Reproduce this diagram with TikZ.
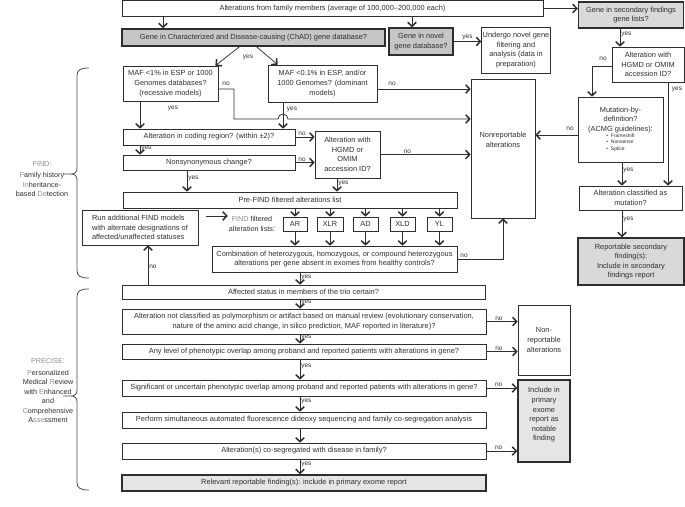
\documentclass[tikz,border=0pt]{standalone}
\usepackage{fontspec}
\setmainfont{Liberation Sans}
\usetikzlibrary{arrows.meta}
\definecolor{ink}{HTML}{2E2E2E}
\definecolor{lite}{HTML}{8C8C8C}
\begin{document}
\begin{tikzpicture}[x=1pt,y=-1pt,
  font=\fontsize{7.4}{9.6}\selectfont, text=ink,
  box/.style={draw=ink, line width=0.65pt, inner sep=1pt, align=center, text=ink},
  gbox/.style={box, line width=1.4pt, fill=gray!45},
  arr/.style={draw=ink, line width=0.75pt, -{Straight Barb[length=4pt,width=8.5pt,line width=1.5pt]}},
  lbl/.style={font=\fontsize{6.5}{7}\selectfont, inner sep=1pt, text=ink},
  brc/.style={draw=ink!85, line width=0.8pt},
  side/.style={align=center, font=\fontsize{7.2}{9.5}\selectfont, text=ink}]
\useasboundingbox (0,0) rectangle (685,506);

% ---- column / row helpers
\coordinate (v1) at (163,0);
\coordinate (v2) at (412,0);
\coordinate (v3) at (140,0);
\coordinate (v4) at (283,0);
\coordinate (v6) at (187,0);
\coordinate (v7) at (337,0);
\coordinate (v8) at (300,0);
\coordinate (v9) at (148,0);
\coordinate (v10) at (234,0);
\coordinate (v11) at (503,0);
\coordinate (v12) at (620,0);
\coordinate (v13) at (592,0);
\coordinate (v14) at (668,0);
\coordinate (v15) at (622,0);
\coordinate (h1) at (0,89);
\coordinate (h2) at (0,119);
\coordinate (h3) at (0,135);
\coordinate (h4) at (0,216);
\coordinate (h5) at (0,66);

% ---- nodes
\node[box, minimum width=421pt, minimum height=16pt] (top) at (332.5,8.5) {Alterations from family members (average of 100,000–200,000 each)};
\node[gbox, minimum width=263pt, minimum height=17pt] (chad) at (253.5,37.5) {Gene in Characterized and Disease-causing (ChAD) gene database?};
\node[gbox, minimum width=64pt, minimum height=27pt] (novel) at (421,41.5) {Gene in novel\\gene database?};
\node[box, minimum width=64pt, minimum height=46pt] (undergo) at (516,50) {Undergo novel gene\\filtering and\\analysis (data in\\preparation)};
\node[gbox, fill=gray!30, minimum width=105pt, minimum height=26pt] (sec) at (631,15) {Gene in secondary findings\\gene lists?};

\node[box, minimum width=95pt, minimum height=35pt] (maf1) at (170.5,83.5) {MAF <1\% in ESP or 1000\\Genomes databases?\\(recessive models)};
\node[box, minimum width=109pt, minimum height=37pt] (maf01) at (322.5,83.5) {MAF <0.1\% in ESP, and/or\\1000 Genomes? (dominant\\models)};
\node[box, minimum width=172pt, minimum height=16pt] (coding) at (209,137) {Alteration in coding region? (within ±2)?};
\node[box, minimum width=172pt, minimum height=15pt] (nonsyn) at (209,162.5) {Nonsynonymous change?};
\node[box, minimum width=65pt, minimum height=47pt] (hgmd) at (347.5,154.5) {Alteration with\\HGMD or\\OMIM\\accession ID?};
\node[box, minimum width=64pt, minimum height=139pt] (nonrep) at (503,148.5) {Nonreportable\\alterations\\[8pt]};
\node[box, minimum width=334pt, minimum height=16pt] (prefind) at (290,200) {Pre-FIND filtered alterations list};
\node[box, minimum width=24pt, minimum height=14pt] (ar) at (295,224) {AR};
\node[box, minimum width=26pt, minimum height=14pt] (xlr) at (330,224) {XLR};
\node[box, minimum width=25pt, minimum height=14pt] (ad) at (365.5,224) {AD};
\node[box, minimum width=25pt, minimum height=14pt] (xld) at (402.5,224) {XLD};
\node[box, minimum width=25pt, minimum height=14pt] (yl) at (439.5,224) {YL};
\node[side, inner sep=1pt] (findlbl) at (252,224) {\textcolor{lite}{FIND} filtered\\alteration lists:};
\node[box, align=left, minimum width=116pt, minimum height=35pt] (run) at (140,227.5) {Run additional FIND models\\with alternate designations of\\affected/unaffected statuses};
\node[box, minimum width=245pt, minimum height=26pt] (combo) at (334.5,259) {Combination of heterozygous, homozygous, or compound heterozygous\\alterations per gene absent in exomes from healthy controls?};

\node[box, minimum width=363pt, minimum height=14pt] (affected) at (303.5,292) {Affected status in members of the trio certain?};
\node[box, minimum width=364pt, minimum height=25pt] (poly) at (304,321.5) {Alteration not classified as polymorphism or artifact based on manual review (evolutionary conservation,\\nature of the amino acid change, in silico prediction, MAF reported in literature)?};
\node[box, minimum width=364pt, minimum height=15pt] (anylevel) at (304,351.5) {Any level of phenotypic overlap among proband and reported patients with alterations in gene?};
\node[box, minimum width=364pt, minimum height=16pt] (signif) at (304,388) {Significant or uncertain phenotypic overlap among proband and reported patients with alterations in gene?};
\node[box, minimum width=364pt, minimum height=16pt] (perform) at (304,420) {Perform simultaneous automated fluorescence dideoxy sequencing and family co-segregation analysis};
\node[box, minimum width=364pt, minimum height=16pt] (coseg) at (304,451) {Alteration(s) co-segregated with disease in family?};
\node[gbox, fill=gray!20, minimum width=364pt, minimum height=16pt] (relevant) at (304,483) {Relevant reportable finding(s): include in primary exome report};
\node[box, minimum width=52pt, minimum height=70pt] (nonrep2) at (544,340) {Non-\\reportable\\alterations};
\node[gbox, fill=gray!20, minimum width=52pt, minimum height=82pt] (include) at (544,421) {Include in\\primary\\exome\\report as\\notable\\finding\\[4pt]};

\node[box, minimum width=72pt, minimum height=35pt] (hgmd2) at (648,64.5) {Alteration with\\HGMD or OMIM\\accession ID?};
\node[box, minimum width=85pt, minimum height=65pt] (mutation) at (620.5,129.5) {Mutation-by-\\definition?\\(ACMG guidelines):\\[-1pt]{\fontsize{5}{6.5}\selectfont\begin{tabular}{@{}l@{}}•\ \ Frameshift\\ •\ \ Nonsense\\ •\ \ Splice\end{tabular}}};
\node[box, minimum width=103pt, minimum height=24pt] (classified) at (630.5,198) {Alteration classified as\\mutation?};
\node[gbox, fill=gray!30, minimum width=106pt, minimum height=47pt] (repsec) at (631,261.5) {Reportable secondary\\finding(s):\\Include in secondary\\findings report};

% ---- side labels
\node[side] (findtxt) at (42,179) {\textcolor{lite}{FIND:}\\[2pt]\textcolor{lite}{F}amily history\\\textcolor{lite}{In}heritance-\\based \textcolor{lite}{De}tection};
\node[side] (pretxt) at (48,391) {\textcolor{lite}{PRECISE:}\\[2pt]\textcolor{lite}{P}ersonalized\\Medical \textcolor{lite}{R}eview\\with \textcolor{lite}{E}nhanced\\and\\\textcolor{lite}{C}omprehensive\\A\textcolor{lite}{sse}ssment};

% braces
\draw[brc] (89,68) .. controls (80,68) and (77,70) .. (77,76) -- (77,168)
  .. controls (77,172) and (75,174) .. (71,174) -- (63,174)
  (71,174) .. controls (75,174) and (77,176) .. (77,180) -- (77,270)
  .. controls (77,276) and (80,278) .. (89,278);
\draw[brc] (89,289) .. controls (80,289) and (77,291) .. (77,297) -- (77,390)
  .. controls (77,394) and (75,396) .. (71,396) -- (63,396)
  (71,396) .. controls (75,396) and (77,398) .. (77,402) -- (77,482)
  .. controls (77,488) and (80,490) .. (89,490);

% ---- connectors
\draw[arr] (top.south -| v1) -- (chad.north -| v1);
\draw[arr] (top.south -| v2) -- (novel.north -| v2);
\draw[arr] (top.east) -- (top.east -| sec.west);
\draw[arr] (novel.east) -- node[lbl, above] (y0) {yes} (novel.east -| undergo.west);
\draw[arr] ([xshift=-14pt]chad.south) -- ([xshift=-3pt]maf1.north east);
\draw[arr] ([xshift=3pt]chad.south) -- ([xshift=10pt]maf01.north west);
\node[lbl] (y1) at (248,57) {yes};

\draw[arr] (maf1.south -| v3) -- (coding.north -| v3);
\node[lbl] (y2) at (173,108) {yes};
\draw[arr] (maf1.east |- h1) -- (v10 |- h1) -- (v10 |- h2) -- ([xshift=-5pt]v4 |- h2)
  arc[start angle=180, end angle=0, radius=5pt] -- (nonrep.west |- h2);
\node[lbl] (n1) at (226,84) {no};
\draw[arr] (maf01.south -| v4) -- (coding.north -| v4);
\node[lbl] (y3) at (292,109) {yes};
\draw[arr] (maf01.east |- h1) -- (nonrep.west |- h1);
\node[lbl] (n2) at (392,84) {no};

\draw[arr] (coding.east) -- node[lbl, above, pos=0.35] (n3) {no} (coding.east -| hgmd.west);
\draw[arr] (nonsyn.east) -- node[lbl, above, pos=0.35] (n4) {no} (nonsyn.east -| hgmd.west);
\draw[arr] (hgmd.east) -- node[lbl, above, pos=0.3] (n5) {no} (hgmd.east -| nonrep.west);
\draw[arr] (coding.south -| v3) -- node[lbl, right, pos=0.3] (y4) {yes} (nonsyn.north -| v3);
\draw[arr] (nonsyn.south -| v6) -- node[lbl, right, pos=0.4] (y5) {yes} (prefind.north -| v6);
\draw[arr] (hgmd.south -| v7) -- node[lbl, right, pos=0.4] (y6) {yes} (prefind.north -| v7);

\foreach \b in {ar,xlr,ad,xld,yl}{
  \draw[arr] (prefind.south -| \b) -- (\b.north);
  \draw[arr] (\b.south) -- (combo.north -| \b);
}
\draw[arr, shorten <=8pt] (run.east |- h4) -- (findlbl.west |- h4);

\draw[arr] (combo.east) -- (v11 |- combo.east) -- (nonrep.south -| v11);
\node[lbl] (n6) at (464,256) {no};
\draw[arr] (combo.south -| v8) -- node[lbl, right, pos=0.4] (y7) {yes} (affected.north -| v8);
\draw[arr] (affected.north -| v9) -- node[lbl, right, pos=0.45] (n7) {no} (run.south -| v9);
\draw[arr] (affected.south -| v8) -- node[lbl, right, pos=0.35] (y8) {yes} (poly.north -| v8);
\draw[arr] (poly.south -| v8) -- node[lbl, right, pos=0.35] (y9) {yes} (anylevel.north -| v8);
\draw[arr] (anylevel.south -| v8) -- node[lbl, right, pos=0.35] (y10) {yes} (signif.north -| v8);
\draw[arr] (signif.south -| v8) -- node[lbl, right, pos=0.35] (y11) {yes} (perform.north -| v8);
\draw[arr] (perform.south -| v8) -- (coseg.north -| v8);
\draw[arr] (coseg.south -| v8) -- node[lbl, right, pos=0.35] (y12) {yes} (relevant.north -| v8);

\draw[arr] (poly.east) -- node[lbl, above, pos=0.4] (n8) {no} (poly.east -| nonrep2.west);
\draw[arr] (anylevel.east) -- node[lbl, above, pos=0.4] (n9) {no} (anylevel.east -| nonrep2.west);
\draw[arr] (signif.east) -- node[lbl, above, pos=0.4] (n10) {no} (signif.east -| include.west);
\draw[arr] (coseg.east) -- node[lbl, above, pos=0.4] (n11) {no} (coseg.east -| include.west);

\draw[arr] (sec.south -| v12) -- node[lbl, right, pos=0.3] (y13) {yes} (hgmd2.north -| v12);
\draw[arr] (hgmd2.west |- h5) -- (v13 |- h5) -- (mutation.north -| v13);
\node[lbl] (n12) at (603,59) {no};
\draw[arr] (hgmd2.south -| v14) -- (classified.north -| v14);
\node[lbl] (y14) at (677,89) {yes};
\draw[arr] (mutation.west |- h3) -- (nonrep.east |- h3);
\node[lbl] (n13) at (570,129) {no};
\draw[arr] (mutation.south -| v15) -- node[lbl, right, pos=0.35] (y15) {yes} (classified.north -| v15);
\draw[arr] (classified.south -| v15) -- node[lbl, right, pos=0.35] (y16) {yes} (repsec.north -| v15);
\end{tikzpicture}
\end{document}
